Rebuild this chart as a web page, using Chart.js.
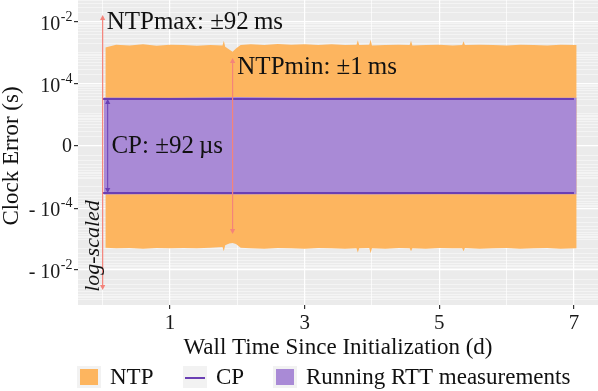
<!DOCTYPE html>
<html>
<head>
<meta charset="utf-8">
<script src="https://cdn.jsdelivr.net/npm/chart.js@4.4.1/dist/chart.umd.min.js"></script>
<style>
	html, body { margin: 0; padding: 0; background: #fff; }
</style>
</head>
<body>
<canvas id="clock_error" width="598" height="391"></canvas>
<script>
// wall time (days) and NTP error bound (s)
const ntp_time = [0.04, 0.2, 0.4, 0.6, 0.8, 1.0, 1.2, 1.4, 1.6, 1.78, 1.8, 1.82, 1.88, 1.93, 1.98, 2.05, 2.2, 2.4, 2.6, 2.8, 3.0, 3.2, 3.4, 3.6, 3.77, 3.79, 3.81, 3.96, 3.98, 4.0, 4.2, 4.4, 4.56, 4.58, 4.6, 4.8, 5.0, 5.2, 5.34, 5.36, 5.38, 5.6, 5.8, 6.0, 6.2, 6.4, 6.6, 6.8, 7.04];
const ntp_upper = [1.5e-3, 1.85e-3, 1.75e-3, 1.9e-3, 1.7e-3, 1.85e-3, 1.8e-3, 1.7e-3, 1.8e-3, 1.75e-3, 2.5e-3, 1.6e-3, 1.3e-3, 1.1e-3, 1.4e-3, 1.8e-3, 1.9e-3, 1.8e-3, 1.95e-3, 1.85e-3, 1.9e-3, 1.8e-3, 1.9e-3, 1.8e-3, 1.85e-3, 2.6e-3, 1.8e-3, 1.85e-3, 2.7e-3, 1.75e-3, 1.8e-3, 1.85e-3, 1.8e-3, 2.5e-3, 1.75e-3, 1.8e-3, 1.85e-3, 1.75e-3, 1.8e-3, 2.4e-3, 1.8e-3, 1.85e-3, 1.8e-3, 1.75e-3, 1.85e-3, 1.8e-3, 1.75e-3, 1.85e-3, 1.8e-3];
const ntp_lower = [-1.9e-3, -2.0e-3, -1.95e-3, -2.05e-3, -1.95e-3, -2.0e-3, -1.95e-3, -2.0e-3, -1.9e-3, -1.8e-3, -2.5e-3, -1.6e-3, -1.4e-3, -1.35e-3, -1.45e-3, -1.9e-3, -2.0e-3, -2.05e-3, -1.95e-3, -2.0e-3, -2.05e-3, -1.95e-3, -2.0e-3, -2.05e-3, -2.0e-3, -2.7e-3, -2.0e-3, -1.95e-3, -2.9e-3, -2.0e-3, -2.05e-3, -1.95e-3, -2.0e-3, -2.5e-3, -2.0e-3, -2.05e-3, -1.95e-3, -2.0e-3, -2.0e-3, -2.5e-3, -1.95e-3, -2.05e-3, -2.0e-3, -1.95e-3, -2.05e-3, -2.0e-3, -1.95e-3, -2.05e-3, -2.0e-3];

// running RTT measurements (s)
const rtt_time = [0.02, 1.0, 2.0, 3.0, 4.0, 5.0, 6.0, 7.04];
const rtt_upper = [3.6e-5, 3.5e-5, 3.7e-5, 3.5e-5, 3.6e-5, 3.5e-5, 3.6e-5, 3.5e-5];
const rtt_lower = [-3.6e-5, -3.5e-5, -3.6e-5, -3.5e-5, -3.6e-5, -3.5e-5, -3.6e-5, -3.5e-5];

// CP bound (s)
const cp_time = [0.0, 7.0];
const cp_upper = [3.2e-5, 3.2e-5];
const cp_lower = [-3.2e-5, -3.2e-5];

// axis ticks
const x_ticks = [0, 1, 2, 3, 4, 5, 6, 7];
const x_labels = ["", "1", "", "3", "", "5", "", "7"];
const y_ticks = [-1e-2, -1e-4, 0, 1e-4, 1e-2];
const y_sign = ["- ", "- ", "", "", ""];
const y_base = ["10", "10", "0", "10", "10"];
const y_exp = ["-2", "-4", "", "-4", "-2"];

// annotations
const arrow_time = [0.0, 1.93, 0.075];
const arrow_top = [1.68e-2, 6.9e-4, 3.2e-5];
const arrow_bottom = [-4.4e-2, -6.9e-4, -3.2e-5];
const note_text = ["NTPmax: \u00B192\u2009ms", "NTPmin: \u00B11\u2009ms", "CP: \u00B192\u2009\u00B5s"];
const note_time = [0.06, 2.0, 0.13];
const note_value = [1e-2, 3.5e-4, 0];

const FONT = "'Liberation Serif', serif";
const ORANGE = "#FDB55F";
const PURPLE = "#A98AD6";
const CP_COLOR = "#6B3FB4";
const ARROW = "#F4837A";

// symmetric log transform
const LIN = 1e-6;
const tf = (v) => Math.sign(v) * Math.log10(1 + Math.abs(v) / LIN);
const itf = (t) => Math.sign(t) * LIN * (Math.pow(10, Math.abs(t)) - 1);

// minor breaks for the grid
const y_minor = [];
for (let e = -6; e <= -2; e++) {
	for (let k = 2; k <= 9; k++) {
		y_minor.push(k * Math.pow(10, e), -k * Math.pow(10, e));
	}
}
y_minor.push(1e-6, -1e-6, 1e-5, -1e-5, 1e-3, -1e-3);

class SymlogScale extends Chart.LinearScale {
	buildTicks() {
		const all = y_ticks.concat(y_minor).filter((v) => v >= this.min && v <= this.max);
		all.sort((a, b) => a - b);
		return all.map((v) => ({ value: v }));
	}
	getPixelForValue(value) {
		const a = tf(this.min), b = tf(this.max);
		return this.getPixelForDecimal((tf(value) - a) / (b - a));
	}
	getValueForPixel(pixel) {
		const a = tf(this.min), b = tf(this.max);
		return itf(a + this.getDecimalForPixel(pixel) * (b - a));
	}
}
SymlogScale.id = "symlog";
SymlogScale.defaults = Chart.LinearScale.defaults;
Chart.register(SymlogScale);

const toPoints = (xs, ys) => xs.map((x, i) => ({ x: x, y: ys[i] }));

const panelPlugin = {
	id: "panel",
	beforeDraw: (chart) => {
		const { ctx, chartArea: a } = chart;
		ctx.save();
		ctx.fillStyle = "#EBEBEB";
		ctx.fillRect(a.left, a.top, a.right - a.left, a.bottom - a.top);
		ctx.restore();
	},
};

function drawArrow(ctx, x, y1, y2, color, width) {
	const h = 5, w = 2.6;
	ctx.strokeStyle = color;
	ctx.fillStyle = color;
	ctx.lineWidth = width;
	ctx.beginPath();
	ctx.moveTo(x, y1 + 2);
	ctx.lineTo(x, y2 - 2);
	ctx.stroke();
	ctx.beginPath();
	ctx.moveTo(x, y1);
	ctx.lineTo(x - w, y1 + h);
	ctx.lineTo(x + w, y1 + h);
	ctx.closePath();
	ctx.fill();
	ctx.beginPath();
	ctx.moveTo(x, y2);
	ctx.lineTo(x - w, y2 - h);
	ctx.lineTo(x + w, y2 - h);
	ctx.closePath();
	ctx.fill();
}

const notesPlugin = {
	id: "notes",
	afterDatasetsDraw: (chart) => {
		const { ctx, scales } = chart;
		const xs = scales.x, ys = scales.y;
		ctx.save();
		arrow_time.forEach((t, i) => {
			const color = i === 2 ? CP_COLOR : ARROW;
			drawArrow(ctx, xs.getPixelForValue(t), ys.getPixelForValue(arrow_top[i]), ys.getPixelForValue(arrow_bottom[i]), color, i === 2 ? 1 : 1.2);
		});
		ctx.fillStyle = "#111";
		ctx.font = "25px " + FONT;
		ctx.textAlign = "left";
		ctx.textBaseline = "middle";
		note_text.forEach((txt, i) => {
			ctx.fillText(txt, xs.getPixelForValue(note_time[i]), ys.getPixelForValue(note_value[i]));
		});
		// log-scaled note
		ctx.translate(xs.getPixelForValue(-0.135), ys.getPixelForValue(-1.68e-3));
		ctx.rotate(-Math.PI / 2);
		ctx.textAlign = "center";
		ctx.font = "italic 22px " + FONT;
		ctx.fillText("log-scaled", 0, 0);
		ctx.restore();
	},
	afterDraw: (chart) => {
		const { ctx, scales } = chart;
		const ys = scales.y;
		ctx.save();
		// y title
		ctx.save();
		ctx.translate(12, 156);
		ctx.rotate(-Math.PI / 2);
		ctx.font = "23px " + FONT;
		ctx.textAlign = "center";
		ctx.textBaseline = "middle";
		ctx.fillStyle = "#111";
		ctx.fillText("Clock Error (s)", 0, 0);
		ctx.restore();
		// y tick labels with raised exponents
		ctx.fillStyle = "#1a1a1a";
		ctx.textBaseline = "middle";
		ctx.textAlign = "left";
		const right = chart.chartArea.left - 6;
		y_ticks.forEach((v, i) => {
			const y = ys.getPixelForValue(v);
			ctx.font = "20px " + FONT;
			const base = y_sign[i] + y_base[i];
			const wb = ctx.measureText(base).width;
			ctx.font = "14px " + FONT;
			const we = y_exp[i] ? ctx.measureText(y_exp[i]).width : 0;
			const x0 = right - wb - we;
			ctx.font = "20px " + FONT;
			ctx.fillText(base, x0, y_exp[i] ? y + 3 : y + 1);
			if (y_exp[i]) {
				ctx.font = "14px " + FONT;
				ctx.fillText(y_exp[i], x0 + wb + 0.5, y - 5);
			}
		});
		// legend
		ctx.font = "23px " + FONT;
		const keys = [
			{ x: 77, label: "NTP", kind: "box", color: ORANGE },
			{ x: 183, label: "CP", kind: "line", color: CP_COLOR },
			{ x: 273, label: "Running RTT measurements", kind: "box", color: PURPLE },
		];
		const top = 366, size = 24, mid = 378;
		keys.forEach((k) => {
			ctx.fillStyle = "#F2F2F2";
			ctx.fillRect(k.x, top, size, size - 2);
			if (k.kind === "box") {
				ctx.fillStyle = k.color;
				ctx.fillRect(k.x + 3, top + 3, size - 6, size - 8);
			} else {
				ctx.strokeStyle = k.color;
				ctx.lineWidth = 2;
				ctx.beginPath();
				ctx.moveTo(k.x + 2, mid);
				ctx.lineTo(k.x + size - 2, mid);
				ctx.stroke();
			}
			ctx.fillStyle = "#111";
			ctx.fillText(k.label, k.x + size + 9, mid);
		});
		ctx.restore();
	},
};

const isMajorY = (v) => y_ticks.includes(v);

new Chart(document.getElementById("clock_error"), {
	type: "line",
	data: {
		datasets: [
			{ label: "CP", data: toPoints(cp_time, cp_upper), borderColor: CP_COLOR, borderWidth: 2, fill: false },
			{ label: "CP lower", data: toPoints(cp_time, cp_lower), borderColor: CP_COLOR, borderWidth: 2, fill: false },
			{ label: "Running RTT measurements", data: toPoints(rtt_time, rtt_upper), borderColor: "transparent", borderWidth: 0, backgroundColor: PURPLE, fill: 3 },
			{ label: "RTT lower", data: toPoints(rtt_time, rtt_lower), borderColor: "transparent", borderWidth: 0, fill: false },
			{ label: "NTP", data: toPoints(ntp_time, ntp_upper), borderColor: "transparent", borderWidth: 0, backgroundColor: ORANGE, fill: 5 },
			{ label: "NTP lower", data: toPoints(ntp_time, ntp_lower), borderColor: "transparent", borderWidth: 0, fill: false },
		],
	},
	options: {
		responsive: false,
		animation: false,
		events: [],
		layout: { padding: { left: 0, right: 0, top: 0, bottom: 30 } },
		elements: { point: { radius: 0 }, line: { tension: 0 } },
		plugins: {
			legend: { display: false },
			tooltip: { enabled: false },
		},
		scales: {
			x: {
				type: "linear",
				min: -0.366,
				max: 7.357,
				afterBuildTicks: (scale) => {
					scale.ticks = x_ticks.map((v) => ({ value: v }));
				},
				afterFit: (scale) => {
					scale.height = 56;
					scale.paddingLeft = 0;
					scale.paddingRight = 0;
				},
				border: { display: false },
				grid: {
					color: "#FFFFFF",
					lineWidth: (c) => (c.tick && c.tick.value % 2 === 1 ? 1.2 : 0.7),
					tickColor: (c) => (c.tick && c.tick.value % 2 === 1 ? "#333" : "transparent"),
					tickLength: 4,
				},
				ticks: {
					autoSkip: false,
					maxRotation: 0,
					padding: 2,
					color: "#1a1a1a",
					font: { family: FONT, size: 21 },
					callback: (v) => x_labels[x_ticks.indexOf(v)] || "",
				},
				title: {
					display: true,
					text: "Wall Time Since Initialization (d)",
					color: "#111",
					font: { family: FONT, size: 23, lineHeight: 1.1 },
					padding: { top: 0, bottom: 0 },
				},
			},
			y: {
				type: "symlog",
				min: -0.1346,
				max: 0.05126,
				afterFit: (scale) => {
					scale.width = 78;
					scale.paddingTop = 0;
					scale.paddingBottom = 0;
				},
				border: { display: false },
				grid: {
					color: (c) => (c.tick && isMajorY(c.tick.value) ? "#FFFFFF" : "rgba(255,255,255,0.8)"),
					lineWidth: (c) => (c.tick && isMajorY(c.tick.value) ? 1.2 : 0.6),
					tickColor: (c) => (c.tick && isMajorY(c.tick.value) ? "#333" : "transparent"),
					tickLength: 4,
				},
				ticks: {
					autoSkip: false,
					padding: 2,
					callback: () => "",
				},
				title: { display: false },
			},
		},
	},
	plugins: [panelPlugin, notesPlugin],
});
</script>
</body>
</html>
